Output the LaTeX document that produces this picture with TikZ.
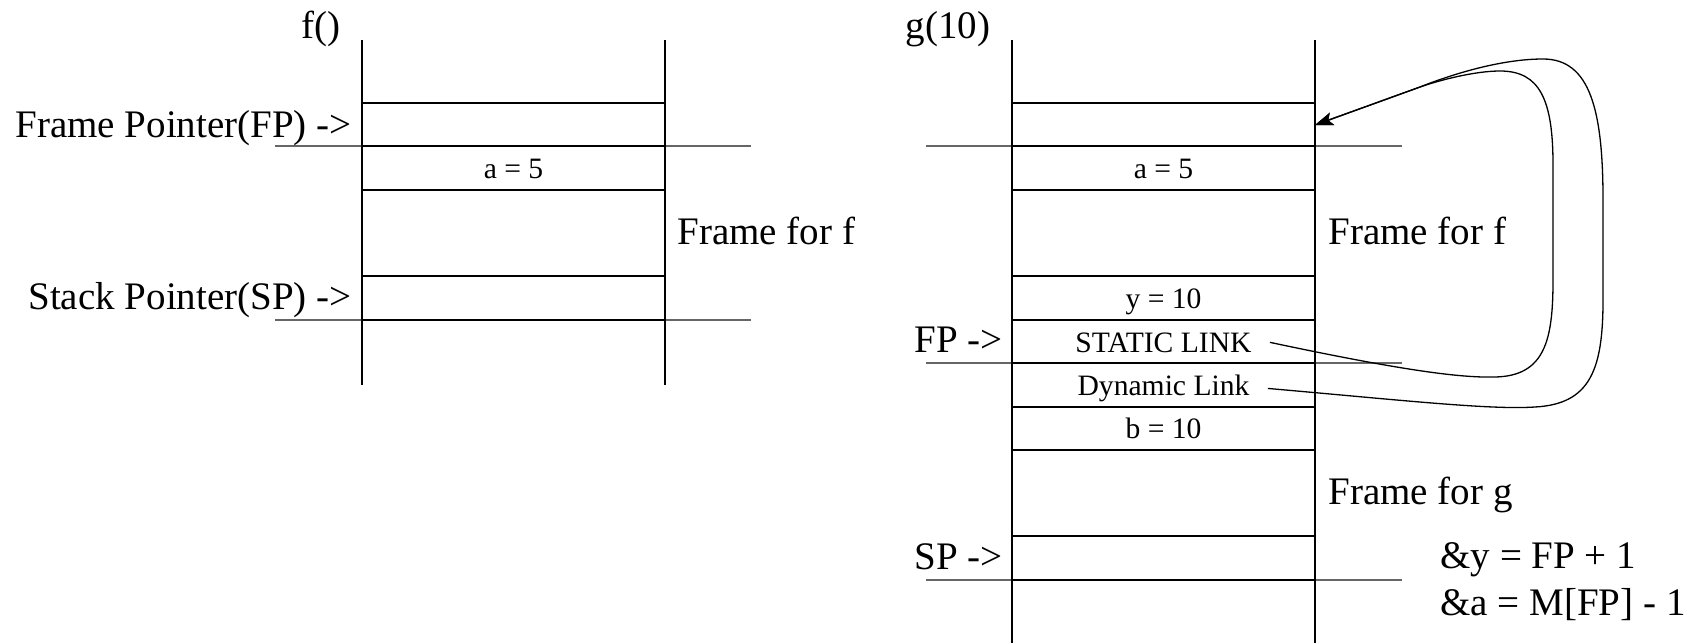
\documentclass[tikz,border=0pt]{standalone}
\usepackage{fontspec}
\setmainfont{Liberation Serif}
\usetikzlibrary{arrows.meta}
\newcommand\bigfont{\fontsize{19.5}{23}\selectfont}
\newcommand\smallfont{\fontsize{14.8}{17}\selectfont}
\tikzset{
  boxline/.style={line width=1pt,black},
  sideline/.style={line width=0.7pt,black},
  longline/.style={line width=0.7pt,black!60},
  bigtext/.style={font=\bigfont,inner sep=0pt},
  smalltext/.style={font=\smallfont,inner ysep=0pt,inner xsep=9pt,anchor=base},
  link/.style={line width=0.65pt,black},
  tip/.style={-{Stealth[length=9pt,width=6.5pt,inset=2pt]}}
}
\begin{document}
\begin{tikzpicture}[x=0.5pt,y=-0.5pt]
\useasboundingbox (0,0) rectangle (1700,643);
% ---------- left stack: f() ----------
\draw[longline] (275,146) -- (751,146);
\draw[longline] (275,320) -- (751,320);
\draw[sideline] (362,40) -- (362,385);
\draw[sideline] (665,40) -- (665,385);
\foreach \y in {103,146,190,276,320} \draw[boxline] (362,\y) -- (665,\y);
\node[bigtext,anchor=base] (fcall) at (321,38) {f()};
\node[bigtext,anchor=base east] (fplab) at (352,137) {Frame Pointer(FP) ->};
\node[smalltext] (fa) at (513.5,178.5) {a = 5};
\node[bigtext,anchor=base west] (fframe) at (677,244) {Frame for f};
\node[bigtext,anchor=base east] (splab) at (352,309) {Stack Pointer(SP) ->};
% ---------- right stack: g(10) ----------
\foreach \y in {146,363,580} \draw[longline] (926,\y) -- (1402,\y);
\draw[sideline] (1012,40) -- (1012,643);
\draw[sideline] (1315,40) -- (1315,643);
\foreach \y in {103,146,190,276,320,363,407,450,536,580} \draw[boxline] (1012,\y) -- (1315,\y);
\node[bigtext,anchor=base] (gcall) at (948,38) {g(10)};
\node[smalltext] (ga) at (1163.5,178.5) {a = 5};
\node[bigtext,anchor=base west] (gfframe) at (1328,244) {Frame for f};
\node[smalltext] (gy) at (1163.5,308.5) {y = 10};
\node[bigtext,anchor=base east] (gfp) at (1003,352) {FP ->};
\node[smalltext] (sl) at (1163.5,352) {STATIC LINK};
\node[smalltext] (dl) at (1163.5,395.5) {Dynamic Link};
\node[smalltext] (gb) at (1163.5,438.5) {b = 10};
\node[bigtext,anchor=base west] (ggframe) at (1328,504) {Frame for g};
\node[bigtext,anchor=base east] (gsp) at (1003,569) {SP ->};
\node[bigtext,anchor=base west] (eq1) at (1440,568) {\&y = FP + 1};
\node[bigtext,anchor=base west] (eq2) at (1440,615) {\&a = M[FP] - 1};
% ---------- links ----------
\coordinate (fpslot) at (1315,125);
\draw[link,tip] (sl.east) .. controls (1400,370) and (1460,378) .. (1495,377)
  .. controls (1545,376) and (1553,340) .. (1553,280) -- (1553,165)
  .. controls (1553,100) and (1540,71) .. (1500,71)
  .. controls (1475,71) and (1440,80) .. (1420,87) -- (fpslot);
\draw[link,tip] (dl.east) .. controls (1400,400) and (1490,410) .. (1535,407)
  .. controls (1590,404) and (1603,370) .. (1603,300) -- (1603,200)
  .. controls (1603,110) and (1590,59) .. (1543,59)
  .. controls (1500,59) and (1450,75) .. (1420,87) -- (fpslot);
\end{tikzpicture}
\end{document}
